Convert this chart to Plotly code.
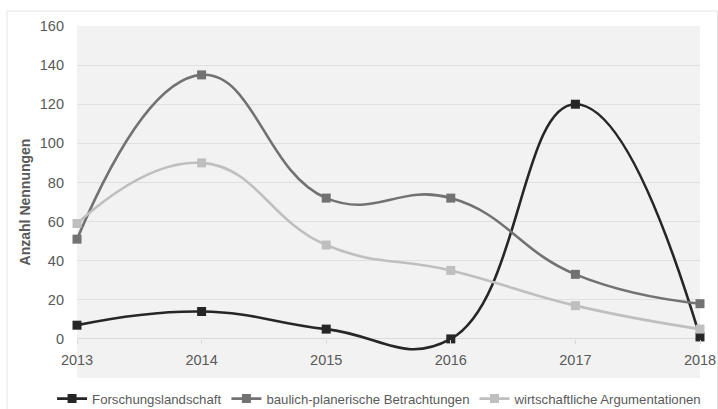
import plotly.graph_objects as go

years = [2013, 2014, 2015, 2016, 2017, 2018]
forschung = [7, 14, 5, 0, 120, 1]
baulich = [51, 135, 72, 72, 33, 18]
wirtschaft = [59, 90, 48, 35, 17, 5]
series_names = ["Forschungslandschaft", "baulich-planerische Betrachtungen", "wirtschaftliche Argumentationen"]
series_colors = ["#262626", "#727272", "#bfbfbf"]
y_ticks = [0, 20, 40, 60, 80, 100, 120, 140, 160]

fig = go.Figure()
for name, vals, col in zip(series_names, [forschung, baulich, wirtschaft], series_colors):
    fig.add_trace(go.Scatter(
        x=years, y=vals, name=name, mode="lines+markers",
        line=dict(color=col, width=2.6, shape="spline", smoothing=1.3),
        marker=dict(symbol="square", size=9, color=col),
        cliponaxis=False,
    ))

font_fam = "Liberation Sans, Arial, sans-serif"
fig.update_layout(
    width=718, height=409,
    margin=dict(l=77, r=18, t=26, b=31, autoexpand=False),
    paper_bgcolor="white",
    plot_bgcolor="#f2f2f2",
    font=dict(family=font_fam, size=14.5, color="#595959"),
    showlegend=True,
    legend=dict(orientation="h", x=-0.04, xanchor="left", xref="paper",
                y=-21 / 352, yref="paper", yanchor="middle",
                font=dict(size=13.2, color="#595959"),
                itemwidth=30, tracegroupgap=0, bgcolor="rgba(0,0,0,0)"),
    xaxis=dict(range=[2013, 2018], tickvals=years, ticktext=[str(y) for y in years],
               showgrid=False, zeroline=False, showline=False,
               anchor="free", position=20 / 180,
               ticks="outside", ticklen=4, tickcolor="#dadada",
               ticklabelstandoff=4,
               tickfont=dict(size=14.5, color="#595959")),
    yaxis=dict(range=[-20, 160], tickvals=y_ticks, showgrid=True,
               gridcolor="#e0e0e0", gridwidth=1, zeroline=True, zerolinecolor="#d9d9d9",
               zerolinewidth=1, showline=False, ticklabelstandoff=12,
               tickfont=dict(size=14.5, color="#595959"),
               title=dict(text="<b>Anzahl Nennungen</b>", standoff=5,
                          font=dict(size=14, color="#595959"))),
)

# outer chart frame
fig.add_shape(type="rect", xref="paper", yref="paper",
              x0=(7 - 77) / 623, x1=(717.5 - 77) / 623,
              y0=-40 / 352, y1=1 + 15 / 352,
              line=dict(color="#e3e3e3", width=1), fillcolor="rgba(0,0,0,0)", layer="below")

fig.write_html("out.html")
